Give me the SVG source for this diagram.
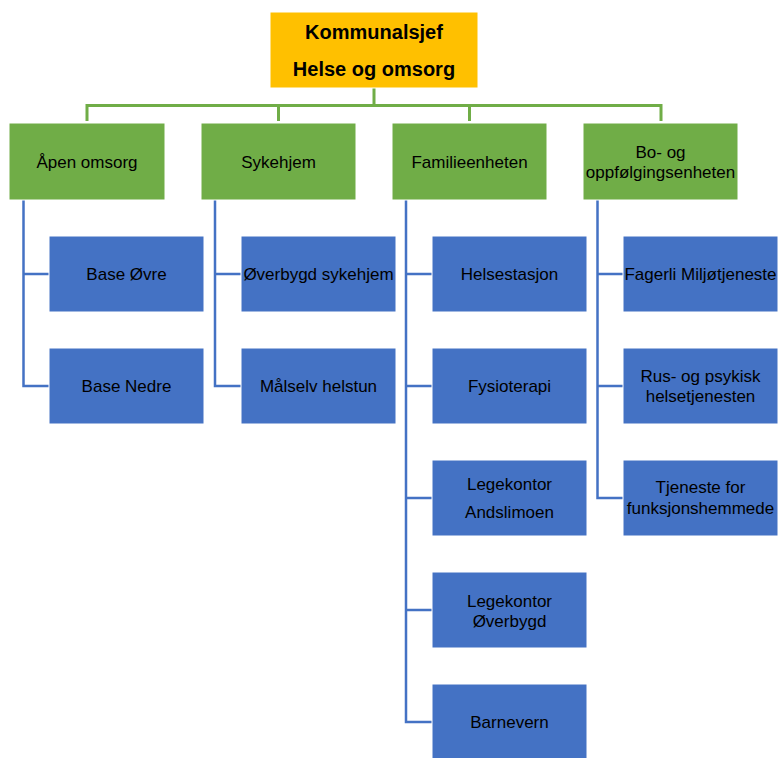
<svg xmlns="http://www.w3.org/2000/svg" width="779" height="758" viewBox="0 0 779 758">
  <style>
    .top { fill: #FFC000; stroke: #ffffff; stroke-width: 1; }
    .unit { fill: #70AD47; stroke: #ffffff; stroke-width: 1; }
    .sub { fill: #4472C4; stroke: #ffffff; stroke-width: 1; }
    text { font-family: "Liberation Sans", Arial, sans-serif; font-size: 17px; fill: #000000; text-anchor: middle; }
    .title { font-size: 20px; font-weight: bold; }
    .lg { fill: none; stroke: #70AD47; stroke-width: 3; }
    .lb { fill: none; stroke: #4472C4; stroke-width: 2.5; }
  </style>

  <!-- connectors -->
  <g id="connectors">
    <path class="lg" d="M374 88 V105.5 M87 121 V105.5 H661 V121 M278.5 105.5 V121 M469.5 105.5 V121"/>
    <path class="lb" d="M23.5 200 V386 H49 M23.5 274 H49"/>
    <path class="lb" d="M215 200 V386 H241 M215 274 H241"/>
    <path class="lb" d="M406 200 V722 H432 M406 274 H432 M406 386 H432 M406 498 H432 M406 610 H432"/>
    <path class="lb" d="M597.5 200 V498 H623 M597.5 274 H623 M597.5 386 H623"/>
  </g>

  <!-- head -->
  <g id="kommunalsjef">
    <rect class="top" x="270" y="12" width="208" height="76"/>
    <text class="title" x="374" y="39">Kommunalsjef</text>
    <text class="title" x="374" y="76">Helse og omsorg</text>
  </g>

  <!-- units -->
  <g id="apen-omsorg">
    <rect class="unit" x="9" y="123" width="156" height="77"/>
    <text x="87" y="168">Åpen omsorg</text>
  </g>
  <g id="sykehjem">
    <rect class="unit" x="201" y="123" width="155" height="77"/>
    <text x="278.5" y="168">Sykehjem</text>
  </g>
  <g id="familieenheten">
    <rect class="unit" x="392" y="123" width="155" height="77"/>
    <text x="469.5" y="168">Familieenheten</text>
  </g>
  <g id="bo-og-oppfolging">
    <rect class="unit" x="583" y="123" width="155" height="77"/>
    <text x="660.5" y="158">Bo- og</text>
    <text x="660.5" y="178">oppfølgingsenheten</text>
  </g>

  <!-- Åpen omsorg -->
  <g id="base-ovre">
    <rect class="sub" x="49" y="236" width="155" height="76"/>
    <text x="126.5" y="280">Base Øvre</text>
  </g>
  <g id="base-nedre">
    <rect class="sub" x="49" y="348" width="155" height="76"/>
    <text x="126.5" y="392">Base Nedre</text>
  </g>

  <!-- Sykehjem -->
  <g id="overbygd-sykehjem">
    <rect class="sub" x="241" y="236" width="155" height="76"/>
    <text x="318.5" y="280">Øverbygd sykehjem</text>
  </g>
  <g id="malselv-helstun">
    <rect class="sub" x="241" y="348" width="155" height="76"/>
    <text x="318.5" y="392">Målselv helstun</text>
  </g>

  <!-- Familieenheten -->
  <g id="helsestasjon">
    <rect class="sub" x="432" y="236" width="155" height="76"/>
    <text x="509.5" y="280">Helsestasjon</text>
  </g>
  <g id="fysioterapi">
    <rect class="sub" x="432" y="348" width="155" height="76"/>
    <text x="509.5" y="392">Fysioterapi</text>
  </g>
  <g id="legekontor-andslimoen">
    <rect class="sub" x="432" y="460" width="155" height="76"/>
    <text x="509.5" y="490">Legekontor</text>
    <text x="509.5" y="518">Andslimoen</text>
  </g>
  <g id="legekontor-overbygd">
    <rect class="sub" x="432" y="572" width="155" height="76"/>
    <text x="509.5" y="607">Legekontor</text>
    <text x="509.5" y="627">Øverbygd</text>
  </g>
  <g id="barnevern">
    <rect class="sub" x="432" y="684" width="155" height="76"/>
    <text x="509.5" y="728">Barnevern</text>
  </g>

  <!-- Bo- og oppfølgingsenheten -->
  <g id="fagerli">
    <rect class="sub" x="623" y="236" width="155" height="76"/>
    <text x="700.5" y="280">Fagerli Miljøtjeneste</text>
  </g>
  <g id="rus-psykisk">
    <rect class="sub" x="623" y="348" width="155" height="76"/>
    <text x="700.5" y="382">Rus- og psykisk</text>
    <text x="700.5" y="402">helsetjenesten</text>
  </g>
  <g id="funksjonshemmede">
    <rect class="sub" x="623" y="460" width="155" height="76"/>
    <text x="700.5" y="493">Tjeneste for</text>
    <text x="700.5" y="514">funksjonshemmede</text>
  </g>
</svg>
